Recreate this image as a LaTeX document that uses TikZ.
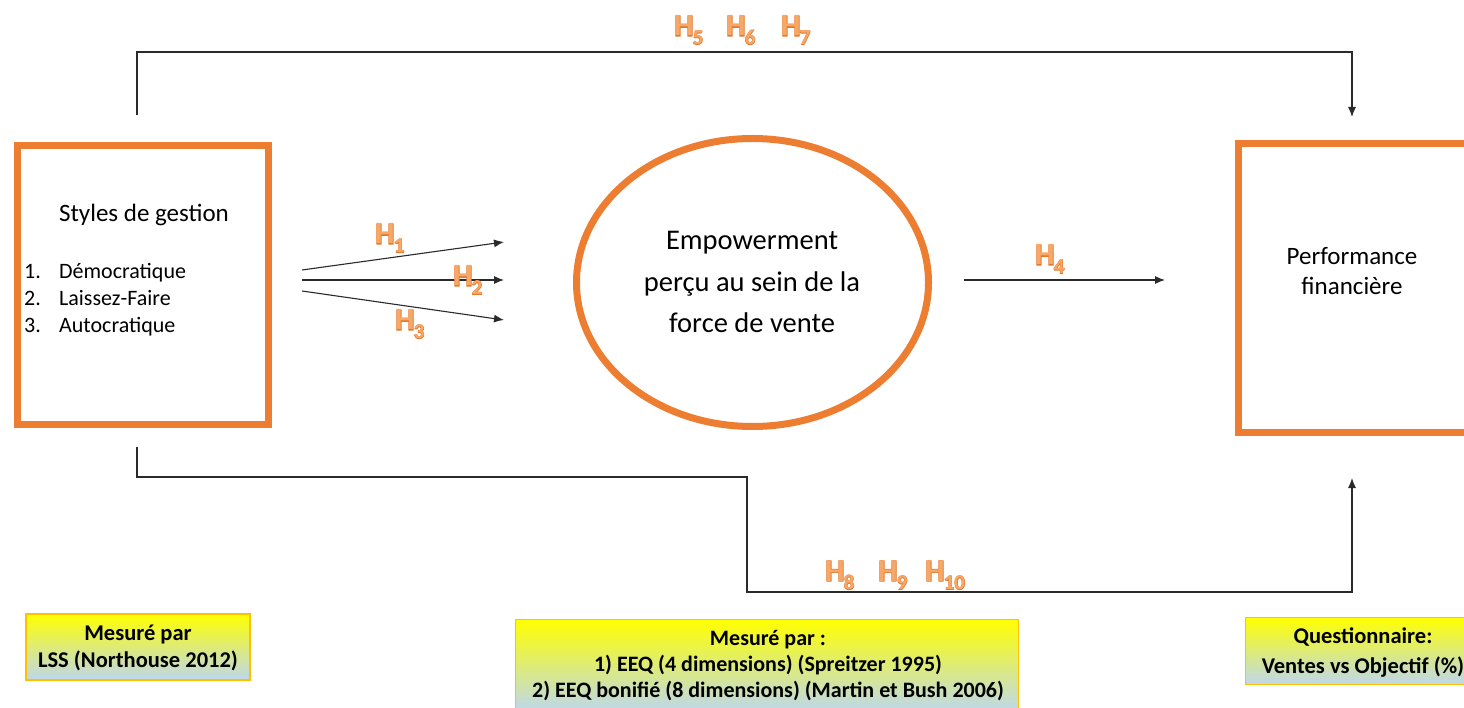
\documentclass[tikz,border=0pt]{standalone}
\usepackage{fontspec}
\setmainfont{Carlito}
\newfontfamily\hthick{Carlito}[BoldFeatures={FakeBold=4}]
\usetikzlibrary{arrows.meta,shapes.geometric}
\definecolor{orng}{HTML}{ED7D31}
\definecolor{hrim}{HTML}{E8772A}
\definecolor{hfill}{HTML}{F6A868}
\definecolor{lblue}{HTML}{BDD7EE}
\definecolor{gold}{HTML}{FFC000}
\definecolor{conncol}{HTML}{2A2A2A}
\newcommand{\hyp}[1]{H\hspace{-1pt}\raisebox{-8.5pt}{\fontsize{21}{21}\selectfont #1}}
\begin{document}
\begin{tikzpicture}[x=1pt,y=-1pt,
  obox/.style={draw=orng, line width=7pt, inner sep=0pt},
  conn/.style={draw=conncol, line width=1.1pt},
  arr/.style={conn, -{Latex[length=10pt,width=8pt]}},
  mbox/.style={draw=gold, line width=1.2pt, top color=yellow, middle color=yellow!40!lblue, bottom color=lblue, inner sep=0pt},
  hrimst/.style={text=hrim, font=\fontsize{31}{31}\selectfont\hthick\bfseries, inner sep=0pt, anchor=base west},
  hlab/.style={text=hfill, font=\fontsize{31}{31}\selectfont\bfseries, inner sep=0pt, anchor=base west},
  mtxt/.style={font=\fontsize{22.5}{27}\selectfont\bfseries, align=center, inner sep=0pt}]
\useasboundingbox (0,0) rectangle (1464,708);
\clip (0,0) rectangle (1464,708);
\fill[white] (0,0) rectangle (1464,708);

% main shapes
\node[obox, minimum width=251pt, minimum height=278pt] (lbox) at (143,285) {};
\node[obox, ellipse, minimum width=352pt, minimum height=288pt] (ell) at (752.5,282.5) {};
\node[obox, minimum width=290pt, minimum height=288pt, anchor=north west] (rbox) at (1235,140.5) {};

% texts in shapes
\node[font=\fontsize{25}{29}\selectfont, inner sep=0pt] (sty) at (144,215) {Styles de gestion};
\node[font=\fontsize{22}{27}\selectfont, align=left, anchor=west, inner sep=0pt] (list) at (24,300)
  {\makebox[35pt][l]{1.}Démocratique\\\makebox[35pt][l]{2.}Laissez-Faire\\\makebox[35pt][l]{3.}Autocratique};
\node[font=\fontsize{28.5}{41.5}\selectfont, align=center, inner sep=0pt] (etxt) at (752,282)
  {Empowerment\\perçu au sein de la\\force de vente};
\node[font=\fontsize{25}{30}\selectfont, align=center, inner sep=0pt] (ptxt) at (1352,271)
  {Performance\\financière};

% connectors
\coordinate (ts) at (137,115);
\coordinate (tc) at (137,52);
\coordinate (te) at (1352,117);
\draw[arr] (ts) -- (tc) -| (te);

\coordinate (bs) at (137,447);
\coordinate (b1) at (137,477);
\coordinate (b2) at (747,477);
\coordinate (b3) at (747,592);
\coordinate (be) at (1352,478);
\draw[arr] (bs) -- (b1) -- (b2) -- (b3) -| (be);

\coordinate (s1) at (302,270);
\coordinate (s2) at (302,280);
\coordinate (s3) at (302,291);
\coordinate (e1) at (504,242);
\coordinate (e2) at (504,280);
\coordinate (e3) at (504,320);
\draw[arr] (s1) -- (e1);
\draw[arr] (s2) -- (e2);
\draw[arr] (s3) -- (e3);

\coordinate (s4) at (964,280);
\coordinate (e4) at (1165,280);
\draw[arr] (s4) -- (e4);

% hypothesis labels (rim layer, then fill layer)
\foreach \n/\x/\y in {1/375/244, 2/453/286, 3/395/330, 4/1035/265, 5/674/36, 6/726/36, 7/781/36, 8/825/581, 9/878/581, 10/925/581}
  \node[hrimst] (hr\n) at (\x,\y) {\hyp{\n}};
\node[hlab] (h1) at (375,244) {\hyp{1}};
\node[hlab] (h2) at (453,286) {\hyp{2}};
\node[hlab] (h3) at (395,330) {\hyp{3}};
\node[hlab] (h4) at (1035,265) {\hyp{4}};
\node[hlab] (h5) at (674,36) {\hyp{5}};
\node[hlab] (h6) at (726,36) {\hyp{6}};
\node[hlab] (h7) at (781,36) {\hyp{7}};
\node[hlab] (h8) at (825,581) {\hyp{8}};
\node[hlab] (h9) at (878,581) {\hyp{9}};
\node[hlab] (h10) at (925,581) {\hyp{10}};

% measurement boxes
\node[mbox, minimum width=224pt, minimum height=66pt] (m1) at (138,647) {};
\node[mtxt] (m1t) at (138,647.5) {Mesuré par\\LSS (Northouse 2012)};
\node[mbox, minimum width=503pt, minimum height=92pt, anchor=north west] (m2) at (515,619) {};
\node[mtxt, font=\fontsize{22}{26}\selectfont\bfseries] (m2t) at (768,666) {Mesuré par :\\1) EEQ (4 dimensions) (Spreitzer 1995)\\2) EEQ bonifié (8 dimensions) (Martin et Bush 2006)};
\node[mbox, minimum width=240pt, minimum height=67pt, anchor=north west] (m3) at (1245,617) {};
\node[mtxt, font=\fontsize{22.5}{30}\selectfont\bfseries] (m3t) at (1363,652) {Questionnaire:\\Ventes vs Objectif (\%)};
\end{tikzpicture}
\end{document}
